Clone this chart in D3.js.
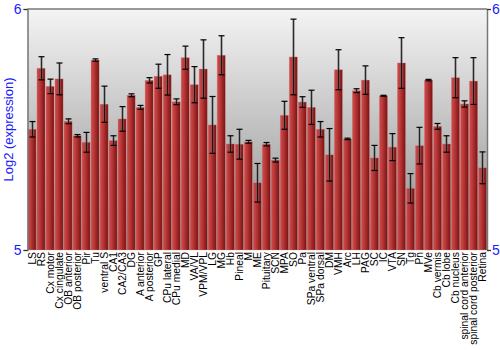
<!DOCTYPE html>
<html><head><meta charset="utf-8">
<script src="https://cdn.jsdelivr.net/npm/d3@7/dist/d3.min.js"></script>
<style>body{margin:0;background:#fff}svg{display:block}</style>
</head><body><svg id="c" width="500" height="350"></svg>
<script>
const categories = ["LS","RS","Cx motor","Cx cingulate","OB anterior","OB posterior","Pir","Tu","ventral S","CA1","CA2/CA3","DG","A anterior","A posterior","GP","CPu lateral","CPu medial","MD","VA/VL","VPM/VPL","LG","MG","Hb","Pineal","M","ME","Pituitary","SCN","MPA","SO","Pa","SPa ventral","SPa dorsal","DM","VMH","Arc","LH","PAG","SC","IC","VTA","SN","Tg","Pn","MVe","Cb vermis","Cb lobe","Cb nucleus","spinal cord anterior","spinal cord posterior","Retina"];
const values = [5.501,5.754,5.679,5.710,5.534,5.474,5.447,5.788,5.605,5.454,5.544,5.642,5.592,5.704,5.721,5.727,5.615,5.798,5.686,5.751,5.519,5.808,5.440,5.439,5.449,5.279,5.439,5.373,5.559,5.801,5.614,5.592,5.501,5.395,5.748,5.461,5.661,5.705,5.382,5.640,5.427,5.776,5.256,5.433,5.705,5.513,5.440,5.715,5.606,5.701,5.341];
const errors = [0.032,0.048,0.030,0.066,0.010,0.005,0.041,0.005,0.075,0.020,0.051,0.006,0.008,0.011,0.050,0.084,0.012,0.048,0.075,0.121,0.118,0.081,0.034,0.062,0.006,0.080,0.007,0.008,0.058,0.157,0.022,0.071,0.032,0.109,0.083,0.003,0.008,0.059,0.052,0.002,0.056,0.105,0.061,0.076,0.003,0.012,0.034,0.083,0.013,0.097,0.066];
const yTicks = [5, 6];
const yLabel = "Log2 (expression)";

(function(){
const svg = d3.select("#c");
const mL = 27.5, mR = 487, mT = 9, mB = 250;
const x = d3.scaleBand().domain(categories).range([mL, mR]).paddingInner(0.1).paddingOuter(0.05);
const y = d3.scaleLinear().domain([5, 6]).range([mB, mT]);

const defs = svg.append("defs");
const bg = defs.append("linearGradient").attr("id","bg").attr("x1",0).attr("y1",0).attr("x2",0).attr("y2",1);
bg.append("stop").attr("offset","0%").attr("stop-color","#f4f4f4");
bg.append("stop").attr("offset","100%").attr("stop-color","#8c8c8c");
const bar = defs.append("linearGradient").attr("id","bar").attr("x1",0).attr("y1",0).attr("x2",1).attr("y2",0);
bar.append("stop").attr("offset","0%").attr("stop-color","#cc4c4c");
bar.append("stop").attr("offset","30%").attr("stop-color","#c03c3c");
bar.append("stop").attr("offset","100%").attr("stop-color","#7a1212");

svg.append("rect").attr("x", mL).attr("y", mT).attr("width", mR-mL).attr("height", mB-mT).attr("fill","url(#bg)");

const g = svg.append("g");
g.selectAll("rect.b").data(categories).join("rect").attr("class","b")
  .attr("x", d => x(d)).attr("width", x.bandwidth())
  .attr("y", (d,i) => y(values[i])).attr("height", (d,i) => y(5) - y(values[i]))
  .attr("fill","url(#bar)").attr("stroke","#d88080").attr("stroke-opacity",0.5).attr("stroke-width",0.6);

const eb = svg.append("g");
categories.forEach((c,i) => {
  const cx = Math.round(x(c) + x.bandwidth()/2) + 0.5;
  const y1 = y(values[i] + errors[i]), y2 = y(values[i] - errors[i]);
  eb.append("line").attr("x1",cx).attr("x2",cx).attr("y1",y1).attr("y2",y2).attr("stroke","#666").attr("stroke-opacity",0.45).attr("stroke-width",3);
  eb.append("line").attr("x1",cx).attr("x2",cx).attr("y1",y1).attr("y2",y2).attr("stroke","#000").attr("stroke-opacity",0.75).attr("stroke-width",1);
  [y1,y2].forEach(yy => {
    eb.append("line").attr("x1",cx-3).attr("x2",cx+3).attr("y1",yy).attr("y2",yy).attr("stroke","#000").attr("stroke-width",1.2);
  });
});

const axL = svg.append("g").attr("transform",`translate(${mL},0)`).call(d3.axisLeft(y).tickValues(yTicks).tickSize(4).tickFormat(d3.format("d")));
const axR = svg.append("g").attr("transform",`translate(${mR},0)`).call(d3.axisRight(y).tickValues(yTicks).tickSize(4).tickFormat(d3.format("d")));
[axL, axR].forEach(a => {
  a.select(".domain").attr("stroke","#777").attr("stroke-width",1.5);
  a.selectAll(".tick line").attr("stroke","#333");
  a.selectAll("text").attr("fill","#1a1aff").style("font-family","Liberation Sans, Arial, sans-serif").style("font-size","14px");
});
axL.selectAll("text").attr("x",-6);
axR.selectAll("text").attr("x",5);
svg.append("line").attr("x1",mL).attr("x2",mR).attr("y1",mT).attr("y2",mT).attr("stroke","#777").attr("stroke-width",1.5);

svg.append("text").attr("transform",`translate(13,${(mT+mB)/2}) rotate(-90)`).attr("text-anchor","middle")
  .attr("fill","#1a1aff").style("font-family","Liberation Sans, Arial, sans-serif").style("font-size","13px").text(yLabel);

const xa = svg.append("g").attr("transform",`translate(0,${mB})`).call(d3.axisBottom(x).tickSize(0));
xa.select(".domain").remove();
xa.selectAll("text").attr("transform","rotate(-90)").attr("text-anchor","end").attr("x",-2).attr("y",0).attr("dy","0.35em")
  .attr("fill","#000").style("font-family","Liberation Sans, Arial, sans-serif").style("font-size","10.3px");
})();
</script></body></html>
